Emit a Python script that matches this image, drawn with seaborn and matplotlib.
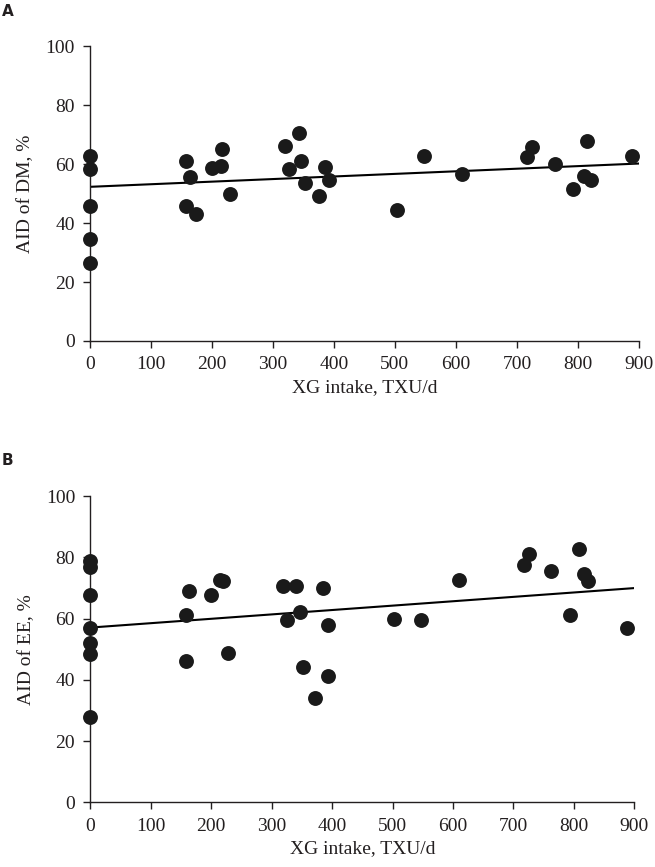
import matplotlib
matplotlib.use("Agg")
import matplotlib.pyplot as plt
import seaborn as sns
import pandas as pd

# data
xg_a = [0, 0, 0, 0, 0, 158, 164, 157, 173, 200, 214, 217, 229, 319, 327, 343, 346,
        352, 375, 386, 392, 503, 547, 610, 717, 725, 762, 792, 810, 815, 822, 888]
aid_dm = [62.7, 58.2, 45.9, 34.6, 26.6, 61.1, 55.5, 45.9, 43.1, 58.8, 59.4, 65.0, 49.7,
          66.1, 58.2, 70.4, 61.1, 53.7, 49.3, 59.1, 54.6, 44.4, 62.8, 56.5, 62.5, 65.9,
          59.9, 51.5, 56.1, 67.8, 54.6, 62.7]

xg_b = [0, 0, 0, 0, 0, 0, 0, 158, 158, 163, 200, 215, 220, 228, 318, 326, 341, 347,
        351, 372, 385, 393, 393, 503, 547, 610, 717, 725, 762, 793, 809, 816, 823, 888]
aid_ee = [78.9, 76.9, 67.7, 57.1, 52.2, 48.6, 27.9, 61.1, 46.2, 69.1, 67.7, 72.8, 72.4,
          48.8, 70.7, 59.5, 70.6, 62.1, 44.1, 34.0, 69.9, 58.1, 41.3, 59.8, 59.5, 72.6,
          77.6, 81.1, 75.6, 61.1, 82.9, 74.5, 72.4, 57.1]

# trend lines as printed (ends at 0 and 900 TXU/d)
fit_x = [0, 900]
fit_dm = [52.3, 60.2]
fit_ee = [57.1, 70.0]

x_ticks = [0, 100, 200, 300, 400, 500, 600, 700, 800, 900]
y_ticks = [0, 20, 40, 60, 80, 100]

df_a = pd.DataFrame({"xg": xg_a, "aid": aid_dm})
df_b = pd.DataFrame({"xg": xg_b, "aid": aid_ee})

sns.set_style("ticks")
plt.rcParams["font.family"] = ["Liberation Serif", "DejaVu Serif"]

fig = plt.figure(figsize=(6.55, 8.67), dpi=100)
ax_a = fig.add_axes([0.1374, 0.6067, 0.838, 0.340])
ax_b = fig.add_axes([0.1380, 0.0746, 0.8305, 0.353])

panels = [(ax_a, df_a, fit_dm, "AID of DM, %", "A", 0.995),
          (ax_b, df_b, fit_ee, "AID of EE, %", "B", 0.477)]

for ax, df, fit, ylab, letter, ly in panels:
    sns.lineplot(x=fit_x, y=fit, ax=ax, color="black", linewidth=1.5, zorder=2)
    sns.scatterplot(data=df, x="xg", y="aid", ax=ax, s=115, color="#1a1a1a",
                    linewidth=0, clip_on=False, zorder=3)
    ax.set_xlim(0, 900)
    ax.set_ylim(0, 100)
    ax.set_xticks(x_ticks)
    ax.set_yticks(y_ticks)
    ax.set_xlabel("XG intake, TXU/d", fontsize=14, color="#231f20", labelpad=4)
    ax.set_ylabel(ylab, fontsize=14, color="#231f20", labelpad=8)
    ax.tick_params(axis="both", labelsize=14, colors="#231f20", length=5,
                   width=1, direction="out", pad=6)
    sns.despine(ax=ax)
    for sp in ["left", "bottom"]:
        ax.spines[sp].set_color("#231f20")
        ax.spines[sp].set_linewidth(1)
    fig.text(0.003, ly, letter, fontsize=11, fontweight="bold",
             family=["DejaVu Sans"], va="top", ha="left", color="#231f20")

fig.savefig("out.png", dpi=100)
